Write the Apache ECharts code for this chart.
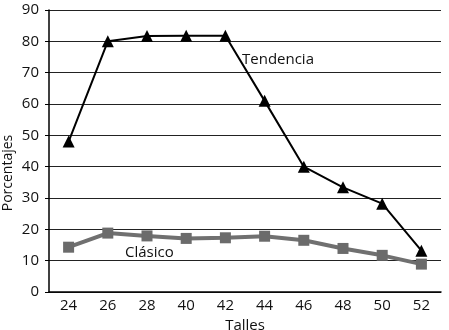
<!DOCTYPE html>
<html>
<head>
<meta charset="utf-8">
<script src="https://cdn.jsdelivr.net/npm/echarts@6/dist/echarts.min.js"></script>
<style>
  html, body { margin: 0; padding: 0; background: #fff; }
  #chart { width: 449px; height: 330px; }
</style>
</head>
<body>
<div id="chart"></div>
<script>
// Sizes on the horizontal axis
const talles = ['24', '26', '28', '40', '42', '44', '46', '48', '50', '52'];
// Percentages per size
const tendencia = [48, 80, 81.7, 81.8, 81.8, 61, 40, 33.4, 28.2, 13.2];
const clasico = [14.3, 18.8, 17.9, 17.1, 17.3, 17.8, 16.5, 13.9, 11.7, 8.9];
// Value axis range
const yMin = 0, yMax = 90, yStep = 10;

const fontFam = '"Open Sans", "DejaVu Sans", sans-serif';
const chart = echarts.init(document.getElementById('chart'), null, { renderer: 'canvas' });

chart.setOption({
  animation: false,
  backgroundColor: '#fff',
  grid: { left: 49, right: 8, top: 10, bottom: 38, containLabel: false, outerBoundsMode: 'none' },
  xAxis: {
    type: 'category',
    data: talles,
    boundaryGap: true,
    name: 'Talles',
    nameLocation: 'middle',
    nameGap: 24,
    nameTextStyle: { fontFamily: fontFam, fontSize: 15, color: '#111' },
    axisLine: { lineStyle: { color: '#000', width: 1.5 } },
    axisTick: { show: false },
    axisLabel: { fontFamily: fontFam, fontSize: 15, color: '#111', margin: 6 }
  },
  yAxis: {
    type: 'value',
    min: yMin,
    max: yMax,
    interval: yStep,
    axisLine: { show: true, lineStyle: { color: '#000', width: 1.5 } },
    axisTick: { show: true, length: 4, lineStyle: { color: '#000' } },
    axisLabel: { fontFamily: fontFam, fontSize: 15, color: '#111', margin: 10 },
    splitLine: { lineStyle: { color: '#222', width: 1 } }
  },
  series: [
    {
      name: 'Clásico',
      type: 'line',
      data: clasico,
      symbol: 'rect',
      symbolSize: 11,
      lineStyle: { color: '#707070', width: 4 },
      itemStyle: { color: '#6b6b6b' },
      z: 2
    },
    {
      name: 'Tendencia',
      type: 'line',
      data: tendencia,
      symbol: 'triangle',
      symbolSize: 12,
      lineStyle: { color: '#000', width: 2 },
      itemStyle: { color: '#000' },
      z: 3
    }
  ],
  graphic: [
    {
      // vertical axis title
      type: 'text', x: 8, y: 173, rotation: Math.PI / 2,
      style: { text: 'Porcentajes', font: '14px ' + fontFam, fill: '#111', align: 'center', verticalAlign: 'middle' }
    },
    {
      type: 'text', left: 242, top: 52,
      style: { text: 'Tendencia', font: '15px ' + fontFam, fill: '#111' }
    },
    {
      type: 'text', left: 125, top: 245,
      style: { text: 'Clásico', font: '15px ' + fontFam, fill: '#111' }
    }
  ]
});
</script>
</body>
</html>
